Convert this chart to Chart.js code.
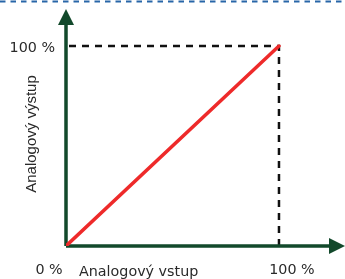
<!DOCTYPE html>
<html>
<head>
<meta charset="utf-8">
<script src="https://cdn.jsdelivr.net/npm/chart.js@4"></script>
<style>
  html, body { margin: 0; padding: 0; background: #fff; }
  #wrap { width: 345px; height: 279px; }
</style>
</head>
<body>
<div id="wrap"><canvas id="chart" width="345" height="279"></canvas></div>
<script>
// data
const inputValues = [0, 100];   // Analogový vstup (%)
const outputValues = [0, 100];  // Analogový výstup (%)
const guideLevel = 100;
const xTickLabels = ['0 %', '100 %'];
const yTickLabels = ['100 %'];
const xTitle = 'Analogový vstup';
const yTitle = 'Analogový výstup';

const AXIS_GREEN = '#12492b';
const LINE_RED = '#ee2a2a';

// axes with arrows, guides and labels
const decorPlugin = {
  id: 'decor',
  beforeDatasetsDraw(chart) {
    const { ctx, scales: { x, y } } = chart;
    const x0 = x.getPixelForValue(0), y0 = y.getPixelForValue(0);
    const xg = x.getPixelForValue(guideLevel), yg = y.getPixelForValue(guideLevel);

    ctx.save();
    // blue dashed border at top
    ctx.strokeStyle = '#2866a8';
    ctx.lineWidth = 2;
    ctx.setLineDash([5.5, 5]);
    ctx.beginPath();
    ctx.moveTo(0, 1.5);
    ctx.lineTo(chart.width, 1.5);
    ctx.stroke();

    // black dashed guides
    ctx.strokeStyle = '#111';
    ctx.lineWidth = 2.5;
    ctx.setLineDash([7, 6]);
    ctx.beginPath();
    ctx.moveTo(x0 + 3, yg);
    ctx.lineTo(xg, yg);
    ctx.lineTo(xg, y0);
    ctx.stroke();
    ctx.setLineDash([]);

    // axes
    const right = chart.chartArea.right, top = chart.chartArea.top;
    ctx.strokeStyle = AXIS_GREEN;
    ctx.fillStyle = AXIS_GREEN;
    ctx.lineWidth = 3.5;
    ctx.beginPath();
    ctx.moveTo(x0, y0);
    ctx.lineTo(x0, top + 10);
    ctx.moveTo(x0, y0);
    ctx.lineTo(right - 10, y0);
    ctx.stroke();
    // arrow heads
    ctx.beginPath();
    ctx.moveTo(x0, top);
    ctx.lineTo(x0 - 8, top + 16);
    ctx.lineTo(x0 + 8, top + 16);
    ctx.closePath();
    ctx.fill();
    ctx.beginPath();
    ctx.moveTo(right, y0);
    ctx.lineTo(right - 16, y0 - 8);
    ctx.lineTo(right - 16, y0 + 8);
    ctx.closePath();
    ctx.fill();

    // labels
    ctx.fillStyle = '#2a2a2a';
    ctx.font = '14.3px "DejaVu Sans"';
    ctx.textBaseline = 'middle';
    ctx.textAlign = 'right';
    ctx.fillText(yTickLabels[0], x0 - 11, yg + 2);
    ctx.textAlign = 'center';
    ctx.fillText(xTickLabels[0], x0 - 17, y0 + 24);
    ctx.fillText(xTickLabels[1], xg + 13, y0 + 24);
    ctx.textAlign = 'left';
    ctx.fillText(xTitle, x0 + 13, y0 + 26);

    ctx.font = '15px "Liberation Sans"';
    ctx.textAlign = 'center';
    ctx.translate(32, 134);
    ctx.rotate(-Math.PI / 2);
    ctx.fillText(yTitle, 0, 0);
    ctx.restore();
  }
};

new Chart(document.getElementById('chart'), {
  type: 'scatter',
  data: {
    datasets: [{
      data: inputValues.map((v, i) => ({ x: v, y: outputValues[i] })),
      showLine: true,
      borderColor: LINE_RED,
      borderWidth: 3.5,
      pointRadius: 0,
      borderCapStyle: 'round'
    }]
  },
  options: {
    responsive: false,
    animation: false,
    layout: { padding: { left: 66, right: 0, top: 9, bottom: 33 } },
    plugins: { legend: { display: false }, tooltip: { enabled: false } },
    scales: {
      x: { display: false, min: 0, max: 131 },
      y: { display: false, min: 0, max: 118.5 }
    }
  },
  plugins: [decorPlugin]
});
</script>
</body>
</html>
